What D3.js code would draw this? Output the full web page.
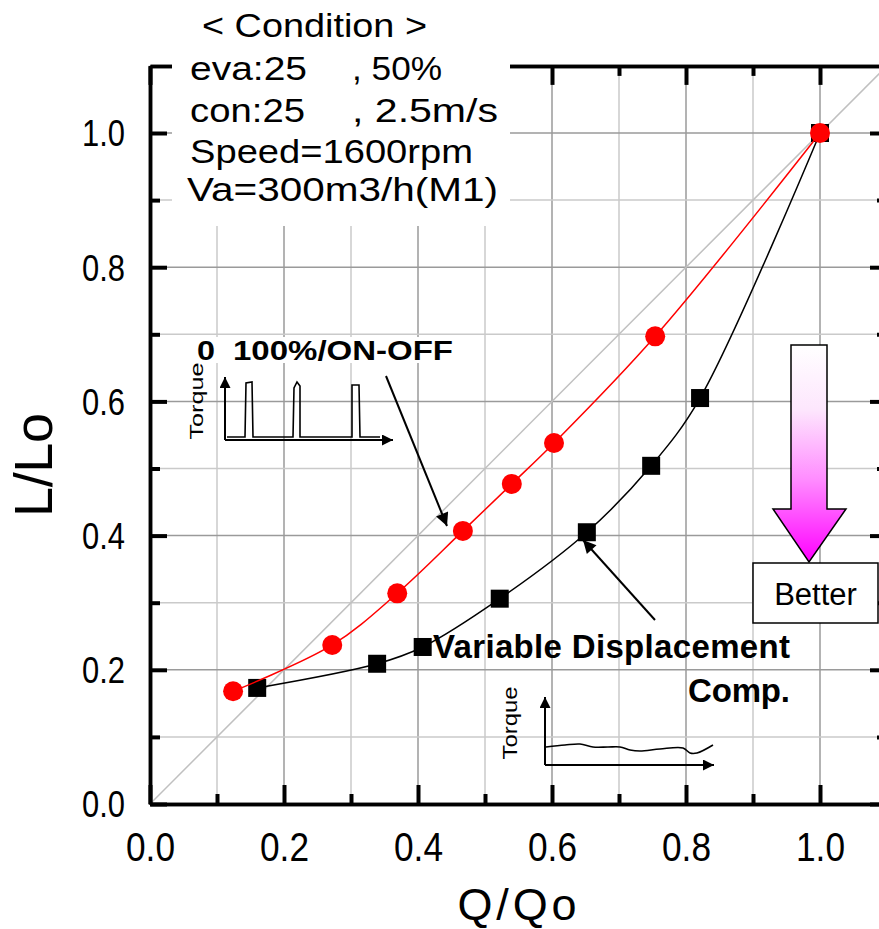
<!DOCTYPE html>
<html>
<head>
<meta charset="utf-8">
<title>L/Lo vs Q/Qo</title>
<script src="https://cdn.jsdelivr.net/npm/d3@7"></script>
<style>
body { margin: 0; background: #fff; }
svg { display: block; font-family: "Liberation Sans", Arial, sans-serif; }
</style>
</head>
<body>
<div id="chart"></div>
<script>
// 0-100% ON-OFF compressor (red circles)
var onoffQ = [0.124, 0.272, 0.369, 0.467, 0.540, 0.603, 0.754, 1.0];
var onoffL = [0.168, 0.237, 0.314, 0.407, 0.477, 0.538, 0.697, 1.0];
// variable displacement compressor (black squares)
var vdQ = [0.160, 0.339, 0.407, 0.522, 0.652, 0.748, 0.821, 1.0];
var vdL = [0.173, 0.209, 0.234, 0.306, 0.405, 0.504, 0.605, 1.0];

var majorTicks = [0, 0.2, 0.4, 0.6, 0.8, 1.0];
var minorTicks = [0.1, 0.3, 0.5, 0.7, 0.9];
var xTitle = 'Q/Qo';
var yTitle = 'L/Lo';

var condTitle = '< Condition >';
var condLeft = ['eva:25', 'con:25', 'Speed=1600rpm', 'Va=300m3/h(M1)'];
var condRight = [', 50%', ', 2.5m/s', '', ''];

var svg = d3.select('#chart').append('svg')
  .attr('width', 879)
  .attr('height', 929);

var x = d3.scaleLinear().domain([0, 1.1]).range([150, 887]);
var y = d3.scaleLinear().domain([0, 1.1]).range([804, 65.9]);

var defs = svg.append('defs');
var grad = defs.append('linearGradient')
  .attr('id', 'betterGrad')
  .attr('x1', 0).attr('y1', 0).attr('x2', 0).attr('y2', 1);
grad.selectAll('stop')
  .data([[0, '#ffffff'], [0.3, '#fde6fd'], [0.62, '#ff8cff'], [1, '#ff00ff']])
  .enter().append('stop')
  .attr('offset', function(d) { return d[0]; })
  .attr('stop-color', function(d) { return d[1]; });

function marker(id, w, h) {
  defs.append('marker')
    .attr('id', id)
    .attr('viewBox', '0 0 10 10')
    .attr('refX', 10).attr('refY', 5)
    .attr('markerUnits', 'userSpaceOnUse')
    .attr('markerWidth', w).attr('markerHeight', h)
    .attr('orient', 'auto')
    .append('path')
    .attr('d', 'M0,0L10,5L0,10Z')
    .attr('fill', '#000');
}
marker('head', 20, 13);
marker('headS', 17, 11);

////////////
// grid   //
////////////
var gridVals = minorTicks.concat(majorTicks.slice(1));
var grid = svg.append('g');
grid.selectAll('line.v')
  .data(gridVals).enter().append('line')
  .attr('class', 'v')
  .attr('x1', function(d) { return x(d); })
  .attr('x2', function(d) { return x(d); })
  .attr('y1', y(0)).attr('y2', y(1.1))
  .attr('stroke', function(d) { return majorTicks.indexOf(d) >= 0 ? '#9a9a9a' : '#cacaca'; })
  .attr('stroke-width', 1.5);
grid.selectAll('line.h')
  .data(gridVals).enter().append('line')
  .attr('class', 'h')
  .attr('y1', function(d) { return y(d); })
  .attr('y2', function(d) { return y(d); })
  .attr('x1', x(0)).attr('x2', x(1.1))
  .attr('stroke', function(d) { return majorTicks.indexOf(d) >= 0 ? '#9a9a9a' : '#cacaca'; })
  .attr('stroke-width', 1.5);

// y = x reference
svg.append('line')
  .attr('x1', x(0)).attr('y1', y(0))
  .attr('x2', x(1.1)).attr('y2', y(1.1))
  .attr('stroke', '#c0c0c0')
  .attr('stroke-width', 1.5);

////////////
// series //
////////////
var line = d3.line()
  .x(function(d) { return x(d[0]); })
  .y(function(d) { return y(d[1]); })
  .curve(d3.curveCatmullRom.alpha(0.5));

var vdData = d3.zip(vdQ, vdL);
var onoffData = d3.zip(onoffQ, onoffL);

svg.append('path')
  .datum(vdData)
  .attr('d', line)
  .attr('fill', 'none')
  .attr('stroke', '#000')
  .attr('stroke-width', 1.5);
svg.selectAll('rect.vd')
  .data(vdData).enter().append('rect')
  .attr('class', 'vd')
  .attr('x', function(d) { return x(d[0]) - 9; })
  .attr('y', function(d) { return y(d[1]) - 9; })
  .attr('width', 18).attr('height', 18)
  .attr('fill', '#000');

svg.append('path')
  .datum(onoffData)
  .attr('d', line)
  .attr('fill', 'none')
  .attr('stroke', '#ff0000')
  .attr('stroke-width', 1.5);
svg.selectAll('circle.onoff')
  .data(onoffData).enter().append('circle')
  .attr('class', 'onoff')
  .attr('cx', function(d) { return x(d[0]); })
  .attr('cy', function(d) { return y(d[1]); })
  .attr('r', 10)
  .attr('fill', '#ff0000');

//////////
// axes //
//////////
function drawAxis(axisFn, scale, translate, vals, size, labels) {
  var a = axisFn(scale).tickValues(vals).tickSize(-size).tickSizeOuter(0)
    .tickFormat(labels ? d3.format('.1f') : '');
  var g = svg.append('g')
    .attr('transform', translate)
    .call(a)
    .attr('font-size', null)
    .attr('font-family', null);
  g.select('.domain').attr('stroke', '#000').attr('stroke-width', 3.5);
  g.selectAll('.tick line').attr('stroke', '#000').attr('stroke-width', 4);
  return g;
}

var bottom = drawAxis(d3.axisBottom, x, 'translate(0,' + y(0) + ')', majorTicks, 19, true);
bottom.selectAll('.tick text')
  .attr('y', 57).attr('dy', null)
  .attr('font-size', 40)
  .attr('textLength', 49)
  .attr('lengthAdjust', 'spacingAndGlyphs');
drawAxis(d3.axisBottom, x, 'translate(0,' + y(0) + ')', minorTicks, 10, false);

var left = drawAxis(d3.axisLeft, y, 'translate(' + x(0) + ',0)', majorTicks, 17, true);
left.selectAll('.tick text')
  .attr('x', -25).attr('dy', '0.35em')
  .attr('font-size', 37)
  .attr('textLength', 43)
  .attr('lengthAdjust', 'spacingAndGlyphs');
drawAxis(d3.axisLeft, y, 'translate(' + x(0) + ',0)', minorTicks, 10, false);

drawAxis(d3.axisTop, x, 'translate(0,' + y(1.1) + ')', majorTicks, 19, false);
drawAxis(d3.axisTop, x, 'translate(0,' + y(1.1) + ')', minorTicks, 10, false);
drawAxis(d3.axisRight, y, 'translate(' + x(1.1) + ',0)', majorTicks, 17, false);
drawAxis(d3.axisRight, y, 'translate(' + x(1.1) + ',0)', minorTicks, 10, false);

svg.append('text')
  .attr('x', 517).attr('y', 920)
  .attr('text-anchor', 'middle')
  .attr('font-size', 45)
  .attr('textLength', 119)
  .text(xTitle);
svg.append('text')
  .attr('transform', 'translate(52,465) rotate(-90)')
  .attr('text-anchor', 'middle')
  .attr('font-size', 54)
  .attr('textLength', 104)
  .text(yTitle);

///////////////
// condition //
///////////////
svg.append('rect')
  .attr('x', 172).attr('y', 0)
  .attr('width', 338).attr('height', 226)
  .attr('fill', '#fff');

var cond = svg.append('g')
  .attr('font-size', 33);
cond.append('text')
  .attr('x', 202).attr('y', 37)
  .attr('textLength', 225)
  .attr('lengthAdjust', 'spacingAndGlyphs')
  .text(condTitle);
var condY = [80, 122, 163, 201];
var leftLen = [117, 115, 283, 311];
var rightLen = [90, 146, 0, 0];
cond.selectAll('text.cl')
  .data(condLeft).enter().append('text')
  .attr('class', 'cl')
  .attr('x', function(d, i) { return i === 3 ? 187 : 190; })
  .attr('y', function(d, i) { return condY[i]; })
  .attr('textLength', function(d, i) { return leftLen[i]; })
  .attr('lengthAdjust', 'spacingAndGlyphs')
  .text(function(d) { return d; });
cond.selectAll('text.cr')
  .data(condRight.filter(function(d) { return d; })).enter().append('text')
  .attr('class', 'cr')
  .attr('x', 352)
  .attr('y', function(d, i) { return condY[i]; })
  .attr('textLength', function(d, i) { return rightLen[i]; })
  .attr('lengthAdjust', 'spacingAndGlyphs')
  .text(function(d) { return d; });

/////////////////
// annotations //
/////////////////
svg.append('rect')
  .attr('x', 195).attr('y', 337)
  .attr('width', 263).attr('height', 26)
  .attr('fill', '#fff');
svg.append('text')
  .attr('x', 197).attr('y', 360)
  .attr('font-size', 28).attr('font-weight', 'bold')
  .attr('textLength', 18).attr('lengthAdjust', 'spacingAndGlyphs')
  .text('0');
svg.append('text')
  .attr('x', 233).attr('y', 360)
  .attr('font-size', 28).attr('font-weight', 'bold')
  .attr('textLength', 220).attr('lengthAdjust', 'spacingAndGlyphs')
  .text('100%/ON-OFF');

svg.append('text')
  .attr('x', 433).attr('y', 658)
  .attr('font-size', 33).attr('font-weight', 'bold')
  .attr('textLength', 357)
  .text('Variable Displacement');
svg.append('text')
  .attr('x', 688).attr('y', 702)
  .attr('font-size', 33).attr('font-weight', 'bold')
  .attr('textLength', 102)
  .text('Comp.');

function arrow(x1, y1, x2, y2, head) {
  svg.append('line')
    .attr('x1', x1).attr('y1', y1)
    .attr('x2', x2).attr('y2', y2)
    .attr('stroke', '#000')
    .attr('stroke-width', 2)
    .attr('marker-end', 'url(#' + head + ')');
}
arrow(386, 376, 447, 526, 'head');
arrow(655, 620, 583, 540, 'head');

// torque sketch: on-off
arrow(225, 440, 225, 377, 'headS');
arrow(225, 440, 393, 440, 'headS');
var pulse = [[227, 437], [245, 437], [246, 383], [252, 382], [253, 437], [293, 437],
  [294, 388], [297, 382], [300, 386], [300, 437], [352, 437], [352, 385],
  [359, 385], [360, 437], [380, 437]];
svg.append('path')
  .attr('d', d3.line()(pulse))
  .attr('fill', 'none').attr('stroke', '#000').attr('stroke-width', 1.6);
svg.append('text')
  .attr('transform', 'translate(203,401) rotate(-90)')
  .attr('text-anchor', 'middle')
  .attr('font-size', 18)
  .attr('textLength', 77)
  .attr('lengthAdjust', 'spacingAndGlyphs')
  .text('Torque');

// torque sketch: variable displacement
arrow(545, 765, 545, 697, 'headS');
arrow(545, 765, 714, 765, 'headS');
var wave = [[546, 747], [565, 745], [580, 744], [593, 747], [608, 747], [620, 747],
  [630, 750], [640, 751], [660, 749], [683, 748], [690, 753], [697, 753], [713, 745]];
svg.append('path')
  .attr('d', d3.line().curve(d3.curveCatmullRom)(wave))
  .attr('fill', 'none').attr('stroke', '#000').attr('stroke-width', 1.6);
svg.append('text')
  .attr('transform', 'translate(517,723) rotate(-90)')
  .attr('text-anchor', 'middle')
  .attr('font-size', 20)
  .attr('textLength', 73)
  .attr('lengthAdjust', 'spacingAndGlyphs')
  .text('Torque');

// "Better" arrow
var betterArrow = [[791, 345], [827, 345], [827, 509], [846, 509], [809, 562], [773, 509], [791, 509]];
svg.append('path')
  .attr('d', d3.line()(betterArrow) + 'Z')
  .attr('fill', 'url(#betterGrad)')
  .attr('stroke', '#000')
  .attr('stroke-width', 1.5);
svg.append('rect')
  .attr('x', 753).attr('y', 563)
  .attr('width', 125).attr('height', 60)
  .attr('fill', '#fff')
  .attr('stroke', '#000')
  .attr('stroke-width', 1.5);
svg.append('text')
  .attr('x', 815.5).attr('y', 605)
  .attr('text-anchor', 'middle')
  .attr('font-size', 31)
  .text('Better');
</script>
</body>
</html>
